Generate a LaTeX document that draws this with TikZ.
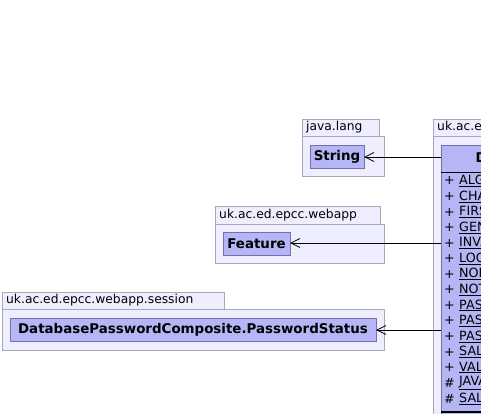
\documentclass[tikz,border=0pt]{standalone}
\usepackage{fontspec}
\setmainfont{DejaVu Sans}
\usetikzlibrary{arrows.meta}
\definecolor{pkgfill}{HTML}{EEEEFF}
\definecolor{pkgline}{HTML}{A8A8BC}
\definecolor{clsfill}{HTML}{B6B6F6}
\definecolor{clsline}{HTML}{7272A8}
\tikzset{
  pkg/.style={draw=pkgline, fill=pkgfill, line width=0.8pt},
  cls/.style={draw=clsline, fill=clsfill, line width=0.8pt},
  pkgname/.style={font=\fontsize{12.3}{14}\selectfont, anchor=west, inner sep=0pt},
  clsname/.style={font=\bfseries\fontsize{13.4}{15}\selectfont, inner sep=0pt},
  attr/.style={font=\fontsize{12.7}{15}\selectfont, anchor=west, inner sep=0pt},
  dep/.style={line width=0.8pt, -{Straight Barb[length=9pt,width=9pt]}}
}
\newcommand{\attrrow}[3]{%
  \node[attr] (s#1) at (444,{181+15.55*#1}) {#2};
  \node[attr] (a#1) at (459,{181+15.55*#1}) {\underline{#3}};
}
\begin{document}
\begin{tikzpicture}[x=1pt,y=-1pt]
\useasboundingbox (0,0) rectangle (481,414);
\clip (0,0) rectangle (481,414);
% java.lang
\draw[pkg] (302,119) rectangle (379,136);
\draw[pkg] (302,136) rectangle (384,176);
\node[pkgname] (pjl) at (306,127.5) {java.lang};
\draw[cls] (310,145) rectangle (364,168);
\node[clsname] (str) at (337,156.5) {String};
\coordinate (strE) at (364,157);
% webapp
\draw[pkg] (215,206) rectangle (380,224);
\draw[pkg] (215,224) rectangle (384,263);
\node[pkgname] (pwa) at (219,215) {uk.ac.ed.epcc.webapp};
\draw[cls] (223,232) rectangle (290,255);
\node[clsname] (feat) at (256.5,243.5) {Feature};
\coordinate (featE) at (290,243);
% session
\draw[pkg] (2,292) rectangle (224,309);
\draw[pkg] (2,309) rectangle (384,350);
\node[pkgname] (pses) at (6,300.5) {uk.ac.ed.epcc.webapp.session};
\draw[cls] (10,318) rectangle (376,341);
\node[clsname] (pst) at (193,329.5) {DatabasePasswordComposite.PasswordStatus};
\coordinate (pstE) at (376,330);
% big package
\draw[pkg] (433,119) rectangle (560,136);
\draw[pkg] (433,136) rectangle (600,430);
\node[pkgname] (pbig) at (437,127.5) {uk.ac.ed.epcc.webapp.session.db};
\draw[cls] (441,145) rectangle (590,420);
\node[clsname, anchor=west] (big) at (475.5,158.5) {DatabasePasswordComposite};
\draw[black, line width=0.8pt] (441,172.5) -- (590,172.5);
\attrrow{0}{+}{ALGORITHM}
\attrrow{1}{+}{CHANGE}
\attrrow{2}{+}{FIRST}
\attrrow{3}{+}{GENERATE}
\attrrow{4}{+}{INVALID}
\attrrow{5}{+}{LOGIN}
\attrrow{6}{+}{NONE}
\attrrow{7}{+}{NOT}
\attrrow{8}{+}{PASSWORD}
\attrrow{9}{+}{PASSWORD}
\attrrow{10}{+}{PASSWORD}
\attrrow{11}{+}{SALT}
\attrrow{12}{+}{VALID}
\attrrow{13}{\#}{JAVA}
\attrrow{14}{\#}{SALT}
\draw[black, line width=2.5pt] (441,412) -- (590,412);
\coordinate (b1) at (441,157);
\coordinate (b2) at (441,243);
\coordinate (b3) at (441,330);
% dependencies
\draw[dep] (b1) -- (strE);
\draw[dep] (b2) -- (featE);
\draw[dep] (b3) -- (pstE);
\end{tikzpicture}
\end{document}
